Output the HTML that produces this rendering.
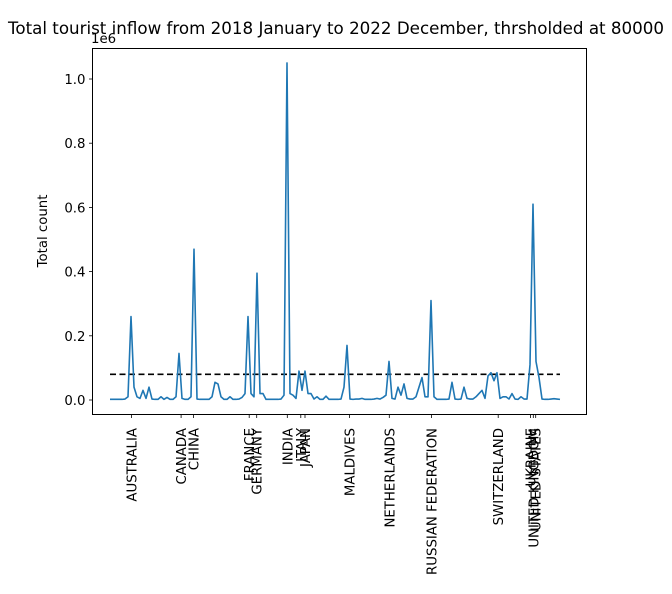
<!DOCTYPE html>
<html><head><meta charset="utf-8"><style>
body{margin:0;background:#fff}
svg text{font-family:"DejaVu Sans","Liberation Sans",sans-serif;fill:#000}
</style></head><body>
<svg id="chart" width="672" height="589" viewBox="0 0 672 589" xmlns="http://www.w3.org/2000/svg">
<rect x="0" y="0" width="672" height="589" fill="#fff"/>
<text x="336" y="34" font-size="16.7" text-anchor="middle">Total tourist inflow from 2018 January to 2022 December, thrsholded at 80000</text>
<text transform="translate(47,231) rotate(-90)" font-size="13.3" text-anchor="middle">Total count</text>
<text x="91" y="43" font-size="13.3">1e6</text>
<g id="grid"></g>
<g id="marks"></g>
<rect x="92.5" y="48.5" width="494" height="366" fill="none" stroke="#000" stroke-width="1"/>
</svg>
<script>
const yTicks=[0.0,0.2,0.4,0.6,0.8,1.0];
const yTickLabels=["0.0","0.2","0.4","0.6","0.8","1.0"];
const threshold=0.08;
const tickIdx=[7.2,23.7,27.8,46.4,48.9,59.1,63.6,65,79.8,93.1,107.2,129.4,140.2,141.1,141.9];
const tickLabels=["AUSTRALIA","CANADA","CHINA","FRANCE","GERMANY","INDIA","ITALY","JAPAN","MALDIVES","NETHERLANDS","RUSSIAN FEDERATION","SWITZERLAND","UKRAINE","UNITED KINGDOM","UNITED STATES"];
const values=[
0.002,0.002,0.002,0.002,0.002,0.003,0.01,0.26,0.04,0.01,
0.005,0.03,0.005,0.04,0.003,0.002,0.002,0.01,0.002,0.008,
0.002,0.002,0.01,0.145,0.005,0.002,0.002,0.01,0.47,0.003,
0.002,0.002,0.002,0.002,0.01,0.055,0.05,0.01,0.002,0.002,
0.01,0.002,0.002,0.003,0.008,0.02,0.26,0.02,0.01,0.395,
0.02,0.02,0.002,0.002,0.002,0.002,0.002,0.003,0.015,1.05,
0.02,0.015,0.005,0.09,0.03,0.09,0.02,0.02,0.003,0.01,
0.002,0.002,0.012,0.002,0.002,0.002,0.002,0.003,0.04,0.17,
0.003,0.002,0.003,0.003,0.005,0.002,0.002,0.002,0.003,0.005,
0.003,0.008,0.015,0.12,0.005,0.003,0.04,0.015,0.05,0.005,
0.003,0.003,0.01,0.04,0.07,0.01,0.01,0.31,0.01,0.002,
0.002,0.002,0.002,0.003,0.055,0.003,0.002,0.003,0.04,0.005,
0.003,0.003,0.01,0.02,0.03,0.005,0.075,0.085,0.06,0.085,
0.005,0.01,0.01,0.003,0.02,0.003,0.002,0.01,0.003,0.003,
0.11,0.61,0.12,0.07,0.003,0.002,0.002,0.003,0.004,0.003,0.002];
const X0=110,DX=3,PL=92.5,PB=414.5,Y0=400,Y1=79;
const xs=i=>X0+i*DX;
const ys=v=>Y0+(Y1-Y0)*v;
const NS="http://www.w3.org/2000/svg";
const g=document.getElementById('marks'),gr=document.getElementById('grid');
function mk(t,a,p){const e=document.createElementNS(NS,t);for(const k in a)e.setAttribute(k,a[k]);(p||g).appendChild(e);return e;}
yTicks.forEach((v,k)=>{
 const l=mk('line',{x1:PL-3.5,x2:PL,y1:ys(v),y2:ys(v),stroke:'#000','stroke-width':0.8},gr);
 
 
 const t=mk('text',{x:PL-7,y:ys(v)+5,'font-size':13.3,'text-anchor':'end'},gr);
 t.textContent=yTickLabels[k];
 
 
});
tickIdx.forEach((i,k)=>{
 const x=xs(i);
 const l=mk('line',{x1:x,x2:x,y1:PB,y2:PB+3.5,stroke:'#000','stroke-width':0.8},gr);
 
 
 const t=mk('text',{transform:`translate(${x+5},${PB+13.5}) rotate(-90)`,'font-size':13.3,'text-anchor':'end'},gr);
 t.textContent=tickLabels[k];
 
 
});
const th=mk('line',{x1:xs(0),x2:xs(values.length-1),y1:ys(threshold),y2:ys(threshold),stroke:'#000','stroke-width':1.6,'stroke-dasharray':'6,3.5'});


const p=mk('polyline',{points:values.map((v,i)=>xs(i)+','+ys(v)).join(' '),fill:'none',stroke:'#1f77b4','stroke-width':1.6,'stroke-linejoin':'round'});


</script>
</body></html>
